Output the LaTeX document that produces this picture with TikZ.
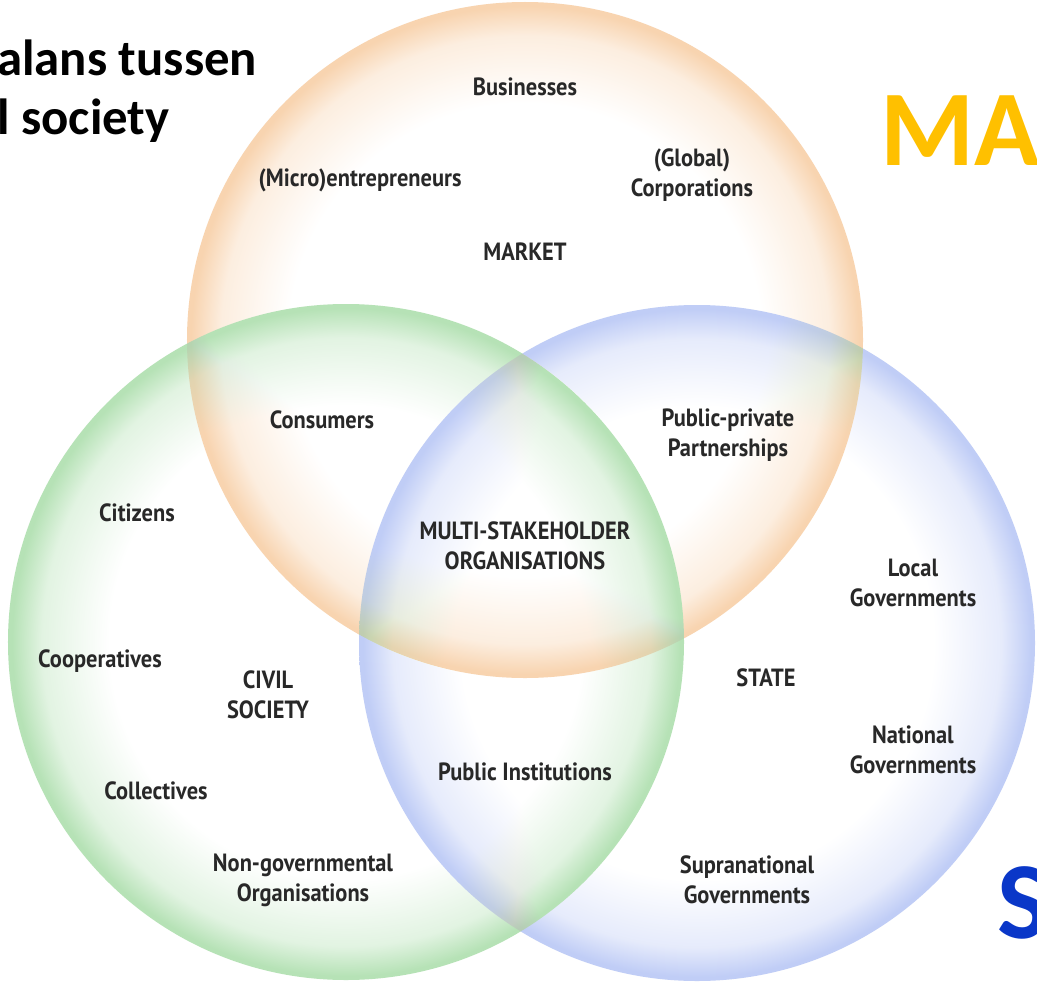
\documentclass[tikz,border=0pt]{standalone}
\usepackage{fontspec}
\setmainfont{PT Sans}
\newfontfamily\titlefont{Carlito}
\newfontfamily\labfont[FakeStretch=0.9]{PT Sans}
\definecolor{orangeC}{RGB}{248,212,176}
\definecolor{greenC}{RGB}{182,226,182}
\definecolor{blueC}{RGB}{192,205,246}
\definecolor{labgray}{RGB}{40,40,40}
\definecolor{mktyellow}{RGB}{255,192,0}
\definecolor{stateblue}{RGB}{10,55,200}
\pgfdeclareradialshading{orangering}{\pgfpointorigin}{color(0bp)=(white); color(17.5bp)=(white); color(22.5bp)=(orangeC!40!white); color(24.7bp)=(orangeC); color(25bp)=(orangeC); color(50bp)=(orangeC)}
\pgfdeclareradialshading{greenring}{\pgfpointorigin}{color(0bp)=(white); color(17.5bp)=(white); color(22.5bp)=(greenC!40!white); color(24.7bp)=(greenC); color(25bp)=(greenC); color(50bp)=(greenC)}
\pgfdeclareradialshading{bluering}{\pgfpointorigin}{color(0bp)=(white); color(17.5bp)=(white); color(22.5bp)=(blueC!40!white); color(24.7bp)=(blueC); color(25bp)=(blueC); color(50bp)=(blueC)}
\begin{document}
\begin{tikzpicture}[x=1bp,y=-1bp,
  lab/.style={font=\labfont\bfseries\fontsize{25}{30}\selectfont, text=labgray, align=center, inner sep=0pt},
  bigtitle/.style={font=\titlefont\bfseries\fontsize{51}{58}\selectfont, text=black, align=left, inner sep=0pt, anchor=west}]
\useasboundingbox (0,0) rectangle (1037,984);
\fill[white] (0,0) rectangle (1037,984);
\begin{scope}[blend group=darken]
  \shade[shading=orangering] (525,340) circle[radius=338bp];
  \shade[shading=greenring] (346,642) circle[radius=338bp];
  \shade[shading=bluering] (697,643) circle[radius=338bp];
\end{scope}

\node[bigtitle] (t1) at (-3,58) {alans tussen};
\node[bigtitle] (t2) at (-3,121) {l society};
\node[font=\titlefont\bfseries\fontsize{108}{110}\selectfont, text=mktyellow, anchor=west, inner sep=0pt] (ma) at (880,131) {MA};
\node[font=\titlefont\bfseries\fontsize{110}{112}\selectfont, text=stateblue, anchor=west, inner sep=0pt] (st) at (997,903) {S};

\node[lab] (bus) at (525,87) {Businesses};
\node[lab] (micro) at (360,180) {(Micro)entrepreneurs};
\node[lab] (glob) at (692,175) {(Global)\\Corporations};
\node[lab] (market) at (525,252) {MARKET};
\node[lab] (cons) at (322,420) {Consumers};
\node[lab] (ppp) at (728,435) {Public-private\\Partnerships};
\node[lab] (cit) at (137,513) {Citizens};
\node[lab] (msh) at (525,546) {MULTI-STAKEHOLDER\\ORGANISATIONS};
\node[lab] (local) at (913,583) {Local\\Governments};
\node[lab] (coop) at (100,661) {Cooperatives};
\node[lab] (civil) at (268,695) {CIVIL\\SOCIETY};
\node[lab] (state) at (766,678) {STATE};
\node[lab] (nat) at (913,750) {National\\Governments};
\node[lab] (pubinst) at (525,772) {Public Institutions};
\node[lab] (coll) at (156,791) {Collectives};
\node[lab] (ngo) at (303,880) {Non-governmental\\Organisations};
\node[lab] (supra) at (747,880) {Supranational\\Governments};
\end{tikzpicture}
\end{document}
